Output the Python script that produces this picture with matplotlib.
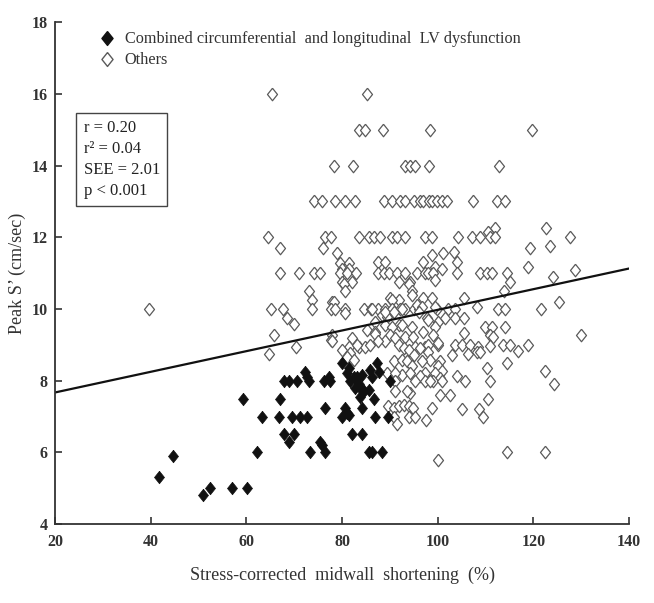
import numpy as np
import matplotlib
matplotlib.use("Agg")
import matplotlib.pyplot as plt
from matplotlib.lines import Line2D

plt.rcParams['font.family'] = ['Liberation Serif', 'DejaVu Serif']

# combined circumferential + longitudinal LV dysfunction (filled diamonds)
combined_x = [41.8, 44.6, 51.0, 52.4, 57.1, 60.2, 62.3, 59.4, 63.3, 67.1, 66.9,
              67.9, 69.0, 70.6, 72.3, 72.7, 73.1, 69.6, 71.3, 72.7, 67.9, 70.0,
              69.0, 73.3, 75.4, 75.8, 76.5, 76.5, 76.3, 77.3, 77.5, 80.0, 81.0,
              81.7, 82.5, 83.1, 83.5, 82.7, 83.8, 84.6, 85.6, 85.8, 87.3, 86.3,
              83.8, 84.2, 86.7, 80.6, 81.0, 81.5, 80.0, 86.9, 82.0, 84.2, 85.6,
              86.3, 88.3, 87.7, 90.0, 89.6, 84.2, 81.4]
combined_y = [5.3, 5.9, 4.8, 5.0, 5.0, 5.0, 6.0, 7.5, 7.0, 7.5, 7.0,
              8.0, 8.0, 8.0, 8.25, 8.1, 8.0, 7.0, 7.0, 7.0, 6.5, 6.5,
              6.3, 6.0, 6.3, 6.2, 6.0, 7.25, 8.0, 8.1, 8.0, 8.5, 8.2,
              8.0, 8.1, 8.1, 7.9, 7.8, 7.8, 7.7, 7.75, 8.3, 8.5, 8.1,
              7.55, 7.25, 7.5, 7.25, 7.1, 7.05, 7.0, 7.0, 6.5, 6.5, 6.0,
              6.0, 6.0, 8.25, 8.0, 7.0, 8.15, 8.35]

# all other patients (open diamonds)
others = [
    (39.6, 10.0), (65.4, 16.0), (85.2, 16.0),
    (83.5, 15.0), (84.9, 15.0), (88.5, 15.0), (98.4, 15.0), (119.6, 15.0),
    (78.3, 14.0), (82.3, 14.0), (93.1, 14.0), (94.2, 14.0), (95.2, 14.0), (98.1, 14.0), (112.7, 14.0),
    (74.1, 13.0), (75.8, 13.0), (78.5, 13.0), (80.6, 13.0), (82.7, 13.0), (88.7, 13.0), (90.4, 13.0),
    (92.1, 13.0), (93.1, 13.0), (95.0, 13.0), (96.3, 13.0), (97.0, 13.0), (98.1, 13.0), (98.8, 13.0),
    (99.8, 13.0), (100.8, 13.0), (101.9, 13.0), (107.4, 13.0), (112.3, 13.0), (114.0, 13.0),
    (122.7, 12.25), (112.0, 12.25), (110.6, 12.15),
    (64.6, 12.0), (76.4, 12.0), (77.6, 12.0), (83.5, 12.0), (85.6, 12.0), (86.6, 12.0), (88.0, 12.0),
    (90.4, 12.0), (91.5, 12.0), (93.2, 12.0), (97.4, 12.0), (98.8, 12.0), (104.2, 12.0), (107.1, 12.0),
    (108.8, 12.0), (110.9, 12.0), (112.0, 12.0), (127.6, 12.0),
    (67.1, 11.7), (76.0, 11.7), (79.0, 11.55), (119.2, 11.7), (123.4, 11.75), (103.3, 11.6),
    (101.2, 11.55), (98.8, 11.5),
    (79.6, 11.27), (81.4, 11.27), (80.0, 11.13), (81.4, 11.13), (87.6, 11.3), (89.0, 11.3), (97.0, 11.3),
    (104.0, 11.3), (99.4, 11.17), (100.8, 11.13), (118.9, 11.17), (128.6, 11.1),
    (67.1, 11.0), (71.0, 11.0), (74.1, 11.0), (75.3, 11.0), (79.6, 11.0), (81.0, 11.0), (82.9, 11.0),
    (87.6, 11.0), (88.7, 11.0), (89.9, 11.0), (91.5, 11.0), (93.2, 11.0), (95.6, 11.0), (97.4, 11.0),
    (98.0, 11.0), (99.0, 11.0), (104.0, 11.0), (108.8, 11.0), (110.2, 11.0), (111.3, 11.0),
    (114.4, 11.0), (124.0, 10.9),
    (80.0, 10.76), (82.1, 10.76), (91.8, 10.76), (94.2, 10.76), (115.1, 10.76), (99.4, 10.8),
    (80.4, 10.7), (93.9, 10.7),
    (73.1, 10.5), (80.7, 10.5), (94.6, 10.5), (113.9, 10.5), (94.6, 10.4),
    (73.8, 10.25), (90.0, 10.3), (91.8, 10.25), (97.0, 10.3), (77.9, 10.2), (105.4, 10.3),
    (98.8, 10.3), (125.4, 10.2), (90.4, 10.25), (78.3, 10.2),
    (65.1, 10.0), (67.6, 10.0), (73.8, 10.0), (77.6, 10.0), (78.5, 10.0), (80.7, 10.0), (84.5, 10.0),
    (86.1, 10.0), (87.6, 10.0), (89.0, 10.0), (90.4, 10.0), (92.1, 10.0), (93.2, 10.0), (95.1, 10.0),
    (96.0, 10.0), (99.8, 10.0), (102.2, 10.0), (103.6, 10.0), (108.1, 10.05), (112.6, 10.0), (114.0, 10.0),
    (121.5, 10.0), (86.3, 10.0), (92.5, 10.0), (95.6, 10.1), (96.7, 10.06), (99.4, 10.06),
    (68.5, 9.74), (69.9, 9.58), (88.3, 9.83), (89.4, 9.79), (97.7, 9.74), (101.5, 9.74), (103.6, 9.74),
    (105.4, 9.74), (80.7, 9.9), (89.0, 9.92), (90.8, 9.92), (96.0, 9.92), (98.0, 9.7), (100.0, 9.65),
    (86.9, 9.65),
    (65.8, 9.28), (77.9, 9.28), (91.8, 9.55), (99.4, 9.5), (109.8, 9.5), (111.3, 9.5), (114.0, 9.5),
    (89.0, 9.56), (90.4, 9.5), (92.5, 9.56), (94.6, 9.5), (85.2, 9.42), (86.9, 9.37), (97.0, 9.37),
    (86.9, 9.3), (93.2, 9.23), (94.9, 9.23), (110.9, 9.28), (105.4, 9.32), (130.0, 9.28), (99.0, 9.28),
    (111.6, 9.23), (90.0, 9.28), (82.1, 9.19), (91.1, 9.19), (77.6, 9.14),
    (77.9, 9.1), (70.3, 8.95), (81.4, 8.95), (83.5, 8.95), (84.9, 8.95), (89.0, 9.1), (95.3, 8.95),
    (97.4, 8.95), (98.0, 9.0), (100.0, 9.0), (103.6, 9.0), (105.0, 9.0), (106.7, 9.0), (108.5, 8.95),
    (113.7, 9.0), (115.0, 9.0), (118.8, 9.0), (83.1, 9.0), (85.9, 9.0), (87.6, 9.1), (91.8, 9.0),
    (92.9, 8.9), (96.3, 8.9), (100.0, 9.05), (110.9, 8.97),
    (64.7, 8.75), (80.0, 8.86), (81.7, 8.77), (108.1, 8.8), (108.8, 8.8), (116.8, 8.84), (93.9, 8.86),
    (95.0, 8.72), (98.0, 8.8), (106.4, 8.75), (102.9, 8.72), (81.0, 8.67),
    (82.4, 8.58), (98.4, 8.58), (100.5, 8.54), (114.4, 8.5), (90.8, 8.54), (92.5, 8.58), (93.5, 8.54),
    (96.7, 8.54), (94.6, 8.4), (100.1, 8.4),
    (110.2, 8.35), (122.5, 8.26), (97.4, 8.2), (100.8, 8.26), (104.0, 8.14), (89.4, 8.2), (92.5, 8.17),
    (94.2, 8.2), (96.3, 8.12), (99.4, 8.2), (100.5, 8.07), (91.1, 8.2),
    (105.7, 8.0), (110.9, 7.98), (97.4, 8.0), (99.0, 8.0), (100.8, 8.0), (91.1, 7.98), (95.3, 7.98),
    (98.4, 7.98), (124.3, 7.9),
    (100.5, 7.6), (102.6, 7.6), (94.2, 7.66), (91.1, 7.7), (93.5, 7.7), (110.6, 7.5),
    (98.8, 7.24), (105.1, 7.2), (108.7, 7.2), (89.7, 7.29), (90.8, 7.24), (91.8, 7.29), (92.9, 7.33),
    (93.9, 7.29), (94.9, 7.24),
    (109.5, 7.0), (97.5, 6.9), (90.8, 7.0), (93.9, 7.0), (95.3, 7.0), (91.5, 6.78),
    (114.4, 6.0), (122.5, 6.0), (100.0, 5.78),
]
others_x = [p[0] for p in others]
others_y = [p[1] for p in others]

# regression line ends
fit_x = [20, 140]
fit_y = [7.67, 11.13]

stats_text = "r = 0.20\nr\u00b2 = 0.04\nSEE = 2.01\np < 0.001"

# diamond a bit taller than wide
diamond = [(0, 1), (0.8, 0), (0, -1), (-0.8, 0), (0, 1)]

fig = plt.figure(figsize=(6.54, 6.03), dpi=100)
ax = fig.add_axes([0.084, 0.131, 0.878, 0.832])

ax.plot(others_x, others_y, linestyle="none", marker=diamond, markersize=9,
        markerfacecolor="white", markeredgecolor="#5a5a5a", markeredgewidth=0.9)
ax.plot(combined_x, combined_y, linestyle="none", marker=diamond, markersize=9,
        markerfacecolor="#111111", markeredgecolor="#111111", markeredgewidth=0.5)
ax.plot(fit_x, fit_y, color="#111111", lw=1.6)

ax.set_xlim(20, 140)
ax.set_ylim(4, 18)
ax.set_xticks(range(20, 141, 20))
ax.set_yticks(range(4, 19, 2))
for s in ["top", "right"]:
    ax.spines[s].set_visible(False)
for s in ["left", "bottom"]:
    ax.spines[s].set_linewidth(1.3)
    ax.spines[s].set_color("#333333")
ax.tick_params(direction="in", length=5, width=1.2, color="#333333",
               labelsize=11.5)
ax.tick_params(axis="x", pad=7)
ax.tick_params(axis="y", pad=5)
for lab in ax.get_xticklabels() + ax.get_yticklabels():
    lab.set_fontweight("bold")
    lab.set_color("#333333")

ax.set_xlabel("Stress-corrected  midwall  shortening  (%)", fontsize=13, color="#333333", labelpad=12)
ax.set_ylabel("Peak S\u2019 (cm/sec)", fontsize=13, color="#333333", labelpad=4)

handles = [
    Line2D([], [], linestyle="none", marker=diamond, markersize=10,
           markerfacecolor="#111111", markeredgecolor="#111111"),
    Line2D([], [], linestyle="none", marker=diamond, markersize=10,
           markerfacecolor="white", markeredgecolor="#5a5a5a"),
]
ax.legend(handles, ["Combined circumferential  and longitudinal  LV dysfunction", "Others"],
          loc="upper left", bbox_to_anchor=(0.065, 0.995), frameon=False,
          fontsize=11.7, handlelength=1.0, handletextpad=0.6, labelspacing=0.3,
          borderaxespad=0, labelcolor="#333333")

ax.text(0.05, 0.805, stats_text, transform=ax.transAxes, ha="left", va="top",
        fontsize=12, color="#222222", linespacing=1.4,
        bbox=dict(boxstyle="square,pad=0.45", facecolor="white", edgecolor="#444444", lw=1))

fig.savefig("out.png", dpi=100)
